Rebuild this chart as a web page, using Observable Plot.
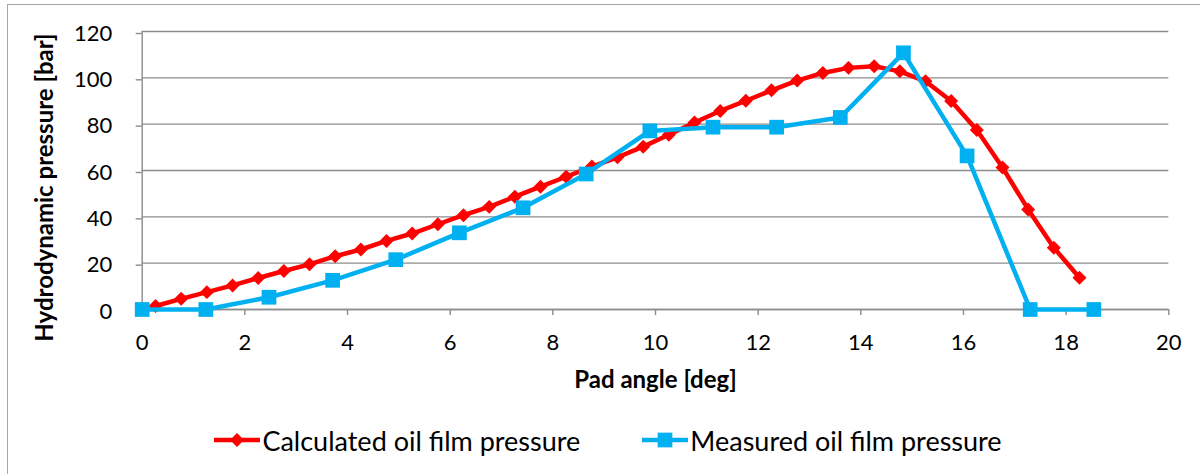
<!DOCTYPE html>
<html><head><meta charset="utf-8">
<script src="https://cdn.jsdelivr.net/npm/d3@7"></script>
<script src="https://cdn.jsdelivr.net/npm/@observablehq/plot@0.6"></script>
<style>
body{margin:0;background:#fff;font-family:Lato,sans-serif;overflow:hidden;}
#frame{position:absolute;left:7px;top:4px;width:1260px;height:520px;border:1.5px solid #a6a6a6;box-sizing:border-box;}
#chart{position:absolute;left:0;top:0;}
#legend{position:absolute;left:8px;top:403px;width:1200px;height:74px;display:flex;justify-content:center;align-items:center;gap:62px;font-family:Lato,sans-serif;font-size:27px;color:#000;}
.item{display:flex;align-items:center;}
.item svg{margin-right:2px;}
</style></head><body>
<div id="frame"></div><div id="chart"></div><div id="legend"></div>
<script>
const calcAngle = [0.26,0.76,1.26,1.76,2.26,2.76,3.26,3.76,4.26,4.76,5.26,5.76,6.26,6.76,7.26,7.76,8.26,8.76,9.26,9.76,10.26,10.76,11.26,11.76,12.26,12.76,13.26,13.76,14.26,14.76,15.26,15.76,16.26,16.76,17.26,17.76,18.26];
const calcPressure = [1.5,4.6,7.5,10.4,13.6,16.6,19.5,23.0,25.9,29.6,32.8,36.8,40.7,44.3,48.7,53.0,57.3,61.7,65.7,70.3,75.4,80.7,85.7,90.1,94.6,98.8,102.1,104.3,105.0,102.8,98.5,90.0,77.5,61.3,43.2,26.7,13.7];
const measAngle = [0,1.24,2.47,3.71,4.94,6.18,7.42,8.65,9.89,11.12,12.36,13.6,14.83,16.07,17.3,18.54];
const measPressure = [0,0,5.3,12.6,21.5,33.1,43.9,58.5,77.1,78.7,78.7,82.9,110.8,66.3,0,0];
const seriesNames = ["Calculated oil film pressure","Measured oil film pressure"];
const seriesColors = ["#ff0000","#00b0f0"];
const seriesSymbols = ["diamond2","square"];
const xTicks = [0,2,4,6,8,10,12,14,16,18,20];
const yTicks = [0,20,40,60,80,100,120];
const xLabel = "Pad angle [deg]";
const yLabel = "Hydrodynamic pressure [bar]";

const calc = calcAngle.map((a,i)=>({a, p: calcPressure[i]}));
const meas = measAngle.map((a,i)=>({a, p: measPressure[i]}));
const grid = "#8c8c8c";

const plot = Plot.plot({
  width:1200, height:400,
  marginLeft:141.7, marginRight:31.7, marginTop:31, marginBottom:91,
  style:{fontFamily:"Lato, sans-serif", fontSize:"22px", color:"#000", background:"transparent", overflow:"visible"},
  x:{domain:[0,20]},
  y:{domain:[0,120]},
  marks:[
    Plot.gridY(yTicks,{stroke:grid, strokeOpacity:1, strokeWidth:1.4}),
    Plot.ruleX([0],{stroke:grid, strokeWidth:1.4}),
    Plot.ruleY([0],{stroke:grid, strokeWidth:1.4}),
    Plot.axisX(xTicks,{tickSize:6, tickPadding:19, stroke:grid, strokeWidth:1.4, fill:"#000", label:null, fontSize:22}),
    Plot.axisY(yTicks,{tickSize:6, tickPadding:24, stroke:grid, strokeWidth:1.4, fill:"#000", label:null, fontSize:22, dy:2}),
    Plot.line(calc,{x:"a", y:"p", stroke:seriesColors[0], strokeWidth:4.5}),
    Plot.dot(calc,{x:"a", y:"p", symbol:seriesSymbols[0], r:6.3, fill:seriesColors[0], stroke:"none"}),
    Plot.line(meas,{x:"a", y:"p", stroke:seriesColors[1], strokeWidth:4.5}),
    Plot.dot(meas,{x:"a", y:"p", symbol:seriesSymbols[1], r:8.3, fill:seriesColors[1], stroke:"none"}),
    Plot.text([xLabel],{frameAnchor:"bottom", dy:78, lineAnchor:"bottom", textAnchor:"middle", text:d=>d, fontWeight:"bold", fontSize:24}),
    Plot.text([yLabel],{frameAnchor:"left", dx:-89, dy:17, rotate:-90, lineAnchor:"bottom", textAnchor:"middle", text:d=>d, fontWeight:"bold", fontSize:24})
  ]
});
// enlarge tick labels (axis tick text groups)
plot.querySelectorAll("g[aria-label]").forEach(g => {
  const lab = g.getAttribute("aria-label") || "";
  if (lab.includes("tick label")) {
    g.setAttribute("font-size", "22");
    g.style.setProperty("font-size", "22px", "important");
    g.querySelectorAll("text").forEach(t => t.style.setProperty("font-size", "22px", "important"));
  }
});
document.getElementById("chart").appendChild(plot);

const legend = document.getElementById("legend");
seriesNames.forEach((name,i)=>{
  const item = document.createElement("div");
  item.className = "item";
  const sw = d3.create("svg").attr("width",46).attr("height",20);
  sw.append("line").attr("x1",0).attr("x2",46).attr("y1",10).attr("y2",10).attr("stroke",seriesColors[i]).attr("stroke-width",4.5);
  const sym = seriesSymbols[i]==="square" ? d3.symbolSquare : d3.symbolDiamond2;
  const size = seriesSymbols[i]==="square" ? Math.PI*8.3*8.3 : Math.PI*6.3*6.3;
  sw.append("path").attr("d", d3.symbol(sym, size)()).attr("transform","translate(23,10)").attr("fill",seriesColors[i]);
  item.appendChild(sw.node());
  const t = document.createElement("span");
  t.textContent = name;
  item.appendChild(t);
  legend.appendChild(item);
});
</script>
</body></html>
